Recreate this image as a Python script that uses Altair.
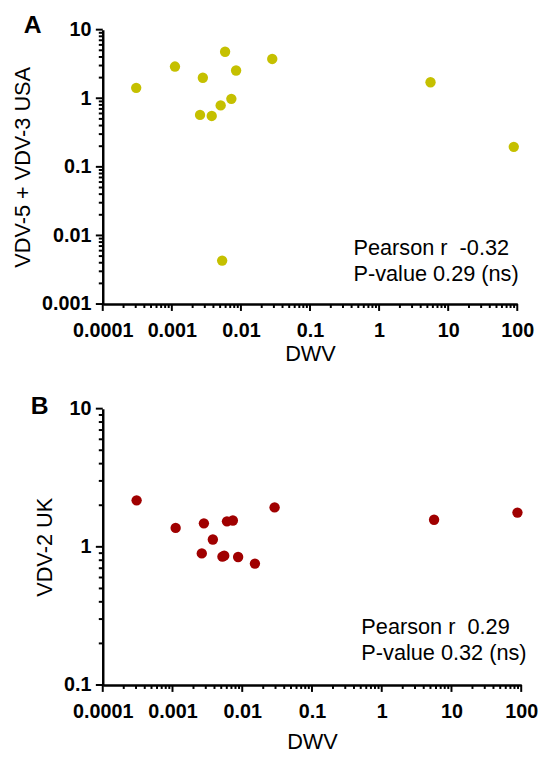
import altair as alt
import pandas as pd

# ---------------- data ----------------
# Panel A: DWV vs VDV-5 + VDV-3 USA
a_dwv = [3.05e-4, 1.11e-3, 2.81e-3, 2.56e-3, 3.78e-3, 5.09e-3, 7.27e-3,
         5.9e-3, 8.51e-3, 0.0284, 5.55, 89.0, 5.35e-3]
a_vdv = [1.42, 2.90, 1.99, 0.571, 0.552, 0.787, 0.98,
         4.76, 2.54, 3.74, 1.71, 0.196, 0.0043]

# Panel B: DWV vs VDV-2 UK
b_dwv = [3.06e-4, 1.11e-3, 2.82e-3, 2.63e-3, 3.79e-3, 5.2e-3, 5.52e-3,
         6.04e-3, 7.34e-3, 8.73e-3, 0.0152, 0.0291, 5.63, 88.3]
b_vdv = [2.17, 1.37, 1.48, 0.896, 1.13, 0.849, 0.863,
         1.53, 1.55, 0.844, 0.756, 1.93, 1.57, 1.77]

x_ticks = [0.0001, 0.001, 0.01, 0.1, 1, 10, 100]
x_tick_labels = ["0.0001", "0.001", "0.01", "0.1", "1", "10", "100"]
a_y_ticks = [0.001, 0.01, 0.1, 1, 10]
a_y_tick_labels = ["0.001", "0.01", "0.1", "1", "10"]
b_y_ticks = [0.1, 1, 10]
b_y_tick_labels = ["0.1", "1", "10"]

panel_letters = ["A", "B"]
y_titles = ["VDV-5 + VDV-3 USA", "VDV-2 UK"]
x_title = "DWV"
a_stats = ["Pearson r\u00a0 -0.32", "P-value 0.29 (ns)"]
b_stats = ["Pearson r\u00a0 0.29", "P-value 0.32 (ns)"]
colors = ["#c5c000", "#a00000"]

FONT = "Liberation Sans"
MAJOR_LEN = 7
MINOR_LEN = 4


def minor_values(majors):
    vals = []
    for m in majors[:-1]:
        vals += [round(m * k, 6) for k in range(2, 10)]
    return vals


def label_expr(ticks, labels):
    expr = "''"
    for t, l in zip(reversed(ticks), reversed(labels)):
        expr = f"datum.value == {t!r} ? '{l}' : ({expr})"
    return expr


def major_axis(ticks, labels, title, orient, title_x, title_y, label_padding):
    return alt.Axis(
        orient=orient,
        values=ticks,
        labelExpr=label_expr(ticks, labels),
        ticks=False,
        tickSize=0,
        domain=True,
        domainColor="black",
        domainWidth=2.5,
        grid=False,
        labelFont=FONT,
        labelFontSize=20,
        labelFontWeight="bold",
        labelColor="black",
        labelFlush=False,
        labelOverlap=False,
        labelPadding=label_padding,
        title=title,
        titleFont=FONT,
        titleFontSize=22,
        titleFontWeight="normal",
        titleColor="black",
        titleX=title_x,
        titleY=title_y,
        titleBaseline="middle",
    )


def x_tick_rules(values, length, scale, height):
    return alt.Chart(pd.DataFrame({"v": values})).mark_rule(
        color="black", strokeWidth=2
    ).encode(
        x=alt.X("v:Q", scale=scale, axis=None),
        y=alt.value(height),
        y2=alt.value(height + length),
    )


def y_tick_rules(values, length, scale):
    return alt.Chart(pd.DataFrame({"v": values})).mark_rule(
        color="black", strokeWidth=2
    ).encode(
        y=alt.Y("v:Q", scale=scale, axis=None),
        x=alt.value(0),
        x2=alt.value(-length),
    )


def text_layer(txt, x, y, size, weight="normal", align="left", opacity=1):
    return alt.Chart(pd.DataFrame({"t": [txt]})).mark_text(
        font=FONT, fontSize=size, fontWeight=weight, align=align,
        baseline="middle", color="black", opacity=opacity,
    ).encode(text="t:N", x=alt.value(x), y=alt.value(y))


def panel(xs, ys, y_ticks, y_labels, y_domain, color, y_title, letter, stats,
          width, height, ytitle_x, xtitle_y, letter_xy, stats_x, anchor_x):
    df = pd.DataFrame({"dwv": xs, "vdv": ys})
    xscale = alt.Scale(type="log", domain=[0.0001, 100], nice=False)
    yscale = alt.Scale(type="log", domain=y_domain, nice=False)
    pts = alt.Chart(df).mark_circle(size=110, opacity=1, color=color).encode(
        x=alt.X("dwv:Q", scale=xscale,
                axis=major_axis(x_ticks, x_tick_labels, x_title, "bottom",
                                width / 2, xtitle_y, 17)),
        y=alt.Y("vdv:Q", scale=yscale,
                axis=major_axis(y_ticks, y_labels, y_title, "left",
                                ytitle_x, height / 2, 12)),
    )
    ticks = [
        x_tick_rules(x_ticks, MAJOR_LEN, xscale, height),
        x_tick_rules(minor_values(x_ticks), MINOR_LEN, xscale, height),
        y_tick_rules(y_ticks, MAJOR_LEN, yscale),
        y_tick_rules(minor_values(y_ticks), MINOR_LEN, yscale),
    ]
    lab = text_layer(letter, letter_xy[0], letter_xy[1], 25, "bold", "center")
    s1 = text_layer(stats[0], stats_x, 221, 22)
    s2 = text_layer(stats[1], stats_x, 248, 22)
    anchor = text_layer(".", anchor_x, height / 2, 10, opacity=0)
    return alt.layer(pts, *ticks, lab, s1, s2, anchor).resolve_axis(
        x="independent", y="independent"
    ).properties(width=width, height=height)


pa = panel(a_dwv, a_vdv, a_y_ticks, a_y_tick_labels, [0.001, 10], colors[0],
           y_titles[0], panel_letters[0], a_stats, 420, 278,
           -81, 50, (-71, -5), 254, -95.3)
pb = panel(b_dwv, b_vdv, b_y_ticks, b_y_tick_labels, [0.1, 10], colors[1],
           y_titles[1], panel_letters[1], b_stats, 424, 280,
           -59, 57, (-64, -3), 262, -87)

chart = alt.vconcat(pa, pb, spacing=30).properties(
    padding={"left": 0, "top": 0, "right": 0, "bottom": 0},
    background="white",
).configure_view(stroke=None)

chart.save("out.html", embed_options={"renderer": "svg", "actions": False})
